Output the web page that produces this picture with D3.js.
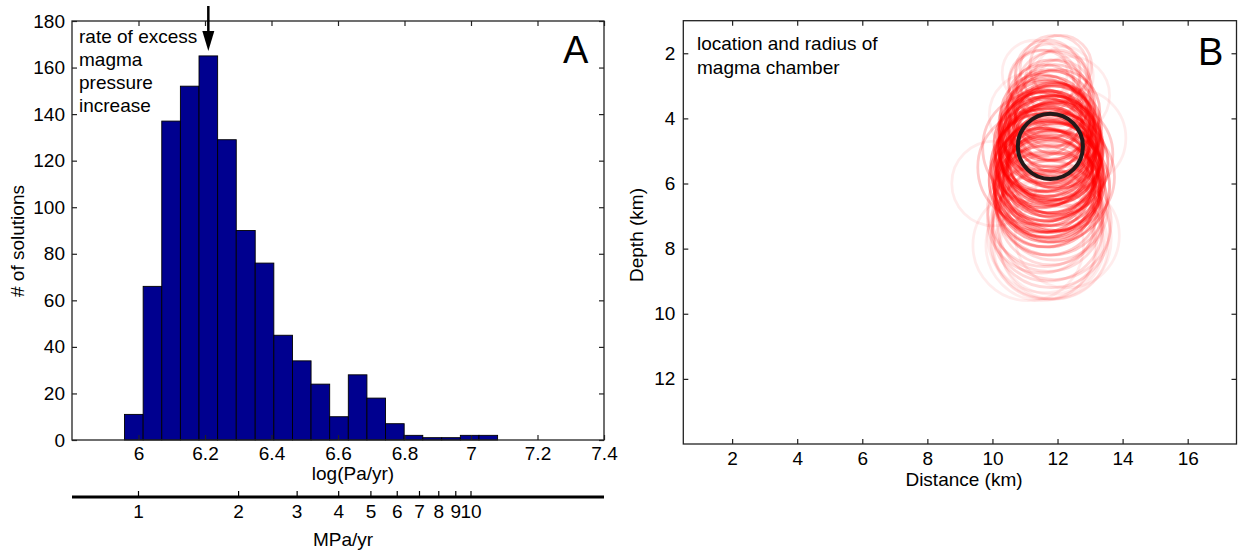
<!DOCTYPE html>
<html>
<head>
<meta charset="utf-8">
<script src="https://cdn.jsdelivr.net/npm/d3@7"></script>
<style>
  body { margin: 0; background: #fff; }
  svg { display: block; font-family: "Liberation Sans", Arial, sans-serif; }
</style>
</head>
<body>
<svg id="chart" width="1238" height="554"></svg>
<script>
// ---- Panel A data: histogram of log10 pressure rate
const binEdges = [5.958, 6.014, 6.070, 6.126, 6.182, 6.238, 6.294, 6.351, 6.407, 6.463, 6.519,
                  6.575, 6.631, 6.687, 6.743, 6.799, 6.855, 6.912, 6.968, 7.024, 7.080];
const binCounts = [11, 66, 137, 152, 165, 129, 90, 76, 45, 34, 24, 10, 28, 18, 7, 2, 1, 1, 2, 2];
const logTicks = [6, 6.2, 6.4, 6.6, 6.8, 7, 7.2, 7.4];
const countTicks = [0, 20, 40, 60, 80, 100, 120, 140, 160, 180];
const mpaTicks = [1, 2, 3, 4, 5, 6, 7, 8, 9, 10];
const bestRate = 6.21;
const noteA = ['rate of excess', 'magma', 'pressure', 'increase'];

// ---- Panel B data: sampled chamber locations (km), radii (km), and how many solutions share them
const chamberX = [11.9, 11.7, 12.1, 11.8, 12.0, 11.6, 12.2, 11.9, 11.5, 12.0,
                  11.8, 11.6, 11.9, 11.7, 12.0, 11.5, 11.8, 11.7, 11.9, 11.6,
                  11.8, 12.0, 11.7, 11.5, 11.9, 11.7, 11.8, 11.6, 11.9, 11.7,
                  11.8, 11.5, 12.0, 11.7, 11.8, 11.6, 11.9, 11.7, 11.8, 11.6,
                  11.9, 11.7, 11.5, 11.8, 12.0, 11.7, 11.6, 11.9, 11.7, 11.8,
                  11.6, 11.7, 11.9, 11.5, 11.8, 11.7, 11.6, 11.9, 11.7, 11.8,
                  11.4, 12.1, 11.3, 12.1, 11.7, 11.6, 11.8, 11.7, 11.9, 11.6,
                  11.8, 11.7, 11.5, 11.9, 11.7, 11.8, 11.6, 11.8, 11.7, 11.5,
                  11.9, 11.6, 11.8, 10.05, 12.6, 11.1, 12.3, 11.2, 12.4, 11.3];
const chamberZ = [2.5, 2.6, 2.4, 2.8, 2.9, 3.0, 2.7, 3.1, 2.9, 3.3,
                  3.4, 3.5, 3.6, 3.7, 3.8, 3.9, 3.9, 4.0, 4.1, 4.2,
                  4.2, 4.3, 4.3, 4.4, 4.4, 4.5, 4.5, 4.6, 4.6, 4.7,
                  4.7, 4.8, 4.8, 4.9, 4.9, 5.0, 5.0, 5.1, 5.1, 5.2,
                  5.2, 5.3, 5.3, 5.4, 5.4, 5.5, 5.5, 5.6, 5.6, 5.7,
                  5.8, 5.8, 5.9, 5.9, 6.0, 6.0, 6.1, 6.1, 6.2, 6.2,
                  4.9, 5.1, 5.5, 5.8, 6.3, 6.4, 6.5, 6.6, 6.7, 6.8,
                  6.9, 7.0, 7.1, 7.2, 7.3, 7.4, 7.6, 7.7, 7.8, 7.9,
                  7.9, 8.0, 7.8, 6.0, 4.6, 7.9, 7.6, 3.9, 3.3, 2.6];
const chamberR = [1.05, 1.0, 0.95, 1.1, 1.0, 1.1, 0.9, 1.15, 1.0, 1.1,
                  1.2, 1.15, 1.25, 1.2, 1.3, 1.25, 1.35, 1.3, 1.2, 1.4,
                  1.3, 1.35, 1.45, 1.3, 1.4, 1.35, 1.5, 1.4, 1.3, 1.55,
                  1.4, 1.45, 1.35, 1.5, 1.6, 1.4, 1.5, 1.45, 1.55, 1.5,
                  1.4, 1.6, 1.45, 1.5, 1.55, 1.5, 1.65, 1.45, 1.55, 1.6,
                  1.5, 1.7, 1.55, 1.6, 1.5, 1.65, 1.55, 1.7, 1.6, 1.5,
                  1.7, 1.6, 1.75, 1.65, 1.65, 1.55, 1.7, 1.6, 1.65, 1.75,
                  1.6, 1.7, 1.65, 1.75, 1.7, 1.8, 1.75, 1.85, 1.75, 1.7,
                  1.65, 1.55, 1.6, 1.3, 1.5, 1.7, 1.6, 1.3, 1.2, 1.0];
const chamberN = [2, 2, 2, 2, 2, 2, 1, 2, 2, 2,
                  3, 3, 3, 3, 4, 4, 4, 5, 5, 5,
                  5, 5, 5, 5, 5, 6, 6, 6, 6, 6,
                  6, 6, 6, 6, 6, 6, 6, 6, 6, 6,
                  6, 6, 6, 6, 6, 6, 6, 6, 6, 6,
                  6, 6, 6, 6, 6, 5, 5, 5, 5, 5,
                  3, 3, 3, 3, 4, 4, 3, 3, 2, 2,
                  2, 2, 2, 2, 2, 2, 1, 1, 1, 1,
                  1, 1, 1, 1, 1, 1, 1, 1, 1, 1];
const bestX = 11.78, bestZ = 4.86, bestR = 1.0;
const distTicks = [2, 4, 6, 8, 10, 12, 14, 16];
const depthTicks = [2, 4, 6, 8, 10, 12];

const svg = d3.select('#chart');
const axisCol = '#222';
const fs = 19;

// Draw a boxed frame with inward ticks on all four sides
function frame(g, x, y, xt, yt, xPad, yPad) {
    const x0 = d3.min(x.range()), x1 = d3.max(x.range());
    const yTop = d3.min(y.range()), yBot = d3.max(y.range());
    g.append('g').attr('transform', `translate(0,${yBot})`)
        .call(d3.axisBottom(x).tickValues(xt).tickSizeInner(-5).tickSizeOuter(0)
            .tickPadding(xPad).tickFormat(d => d));
    g.append('g').attr('transform', `translate(0,${yTop})`)
        .call(d3.axisTop(x).tickValues(xt).tickSizeInner(-5).tickSizeOuter(0).tickFormat(''));
    g.append('g').attr('transform', `translate(${x0},0)`)
        .call(d3.axisLeft(y).tickValues(yt).tickSizeInner(-5).tickSizeOuter(0)
            .tickPadding(yPad).tickFormat(d => d));
    g.append('g').attr('transform', `translate(${x1},0)`)
        .call(d3.axisRight(y).tickValues(yt).tickSizeInner(-5).tickSizeOuter(0).tickFormat(''));
    g.selectAll('.domain').remove();
    g.selectAll('.tick line').attr('stroke', axisCol).attr('stroke-width', 1.2);
    g.selectAll('.tick text').attr('fill', '#000').style('font-size', fs + 'px')
        .style('font-family', '"Liberation Sans", Arial, sans-serif');
    g.append('rect')
        .attr('x', x0).attr('y', yTop).attr('width', x1 - x0).attr('height', yBot - yTop)
        .attr('fill', 'none').attr('stroke', axisCol).attr('stroke-width', 1.3);
}

// ================= Panel A =================
const gA = svg.append('g');
const xA = d3.scaleLinear().domain([5.8, 7.4]).range([72, 604]);
const yA = d3.scaleLinear().domain([0, 180]).range([440, 21]);

gA.append('g').selectAll('rect')
    .data(binCounts)
    .enter()
    .append('rect')
    .attr('x', (d, i) => xA(binEdges[i]))
    .attr('width', (d, i) => xA(binEdges[i + 1]) - xA(binEdges[i]))
    .attr('y', d => yA(d))
    .attr('height', d => yA(0) - yA(d))
    .attr('fill', '#00008f')
    .attr('stroke', '#000')
    .attr('stroke-width', 0.9);

frame(gA, xA, yA, logTicks, countTicks, 7, 7);

// annotation text and arrow
gA.append('g').selectAll('text')
    .data(noteA)
    .enter()
    .append('text')
    .attr('x', 79)
    .attr('y', (d, i) => 43 + i * 23)
    .style('font-size', fs + 'px')
    .text(d => d);

const ax = xA(bestRate);
gA.append('line')
    .attr('x1', ax).attr('x2', ax).attr('y1', 6).attr('y2', 36)
    .attr('stroke', '#000').attr('stroke-width', 2.5);
gA.append('path')
    .attr('d', `M${ax - 6},31 L${ax + 6},31 L${ax},51 Z`)
    .attr('fill', '#000');

gA.append('text').attr('x', 563).attr('y', 63).style('font-size', '38px').text('A');

gA.append('text')
    .attr('x', 353).attr('y', 480)
    .attr('text-anchor', 'middle').style('font-size', fs + 'px')
    .text('log(Pa/yr)');
gA.append('text')
    .attr('transform', 'translate(24,241) rotate(-90)')
    .attr('text-anchor', 'middle').style('font-size', fs + 'px')
    .text('# of solutions');

// secondary MPa/yr axis (log spacing matches log10(Pa/yr))
const mpaY = 497;
gA.append('line')
    .attr('x1', 72).attr('x2', 604).attr('y1', mpaY).attr('y2', mpaY)
    .attr('stroke', '#000').attr('stroke-width', 3);
const mpa = gA.append('g').selectAll('g')
    .data(mpaTicks)
    .enter()
    .append('g')
    .attr('transform', d => `translate(${xA(6 + Math.log10(d))},0)`);
mpa.append('line')
    .attr('y1', mpaY - 6).attr('y2', mpaY)
    .attr('stroke', '#000').attr('stroke-width', 1.2);
mpa.append('text')
    .attr('y', mpaY + 21)
    .attr('text-anchor', 'middle').style('font-size', fs + 'px')
    .text(d => d);
gA.append('text')
    .attr('x', 343).attr('y', 546)
    .attr('text-anchor', 'middle').style('font-size', fs + 'px')
    .text('MPa/yr');

// ================= Panel B =================
const gB = svg.append('g');
const xB = d3.scaleLinear().domain([0.5, 17.5]).range([683.3, 1236.5]);
const yB = d3.scaleLinear().domain([1, 14]).range([20.7, 444]);
const kmPx = xB(1) - xB(0);
const baseAlpha = 0.075;

gB.append('g').selectAll('circle')
    .data(chamberX)
    .enter()
    .append('circle')
    .attr('cx', d => xB(d))
    .attr('cy', (d, i) => yB(chamberZ[i]))
    .attr('r', (d, i) => chamberR[i] * kmPx)
    .attr('fill', 'none')
    .attr('stroke', '#ff0000')
    .attr('stroke-opacity', (d, i) => 1 - Math.pow(1 - baseAlpha, chamberN[i]))
    .attr('stroke-width', 2.8);

gB.append('circle')
    .attr('cx', xB(bestX)).attr('cy', yB(bestZ)).attr('r', bestR * kmPx)
    .attr('fill', 'none').attr('stroke', '#231a1a').attr('stroke-width', 4);

frame(gB, xB, yB, distTicks, depthTicks, 8, 8);

gB.append('text').attr('x', 697).attr('y', 50).style('font-size', fs + 'px').text('location and radius of');
gB.append('text').attr('x', 697).attr('y', 74).style('font-size', fs + 'px').text('magma chamber');
gB.append('text').attr('x', 1198).attr('y', 65).style('font-size', '38px').text('B');

gB.append('text')
    .attr('x', 964).attr('y', 486)
    .attr('text-anchor', 'middle').style('font-size', fs + 'px')
    .text('Distance (km)');
gB.append('text')
    .attr('transform', 'translate(643,235) rotate(-90)')
    .attr('text-anchor', 'middle').style('font-size', fs + 'px')
    .text('Depth (km)');
</script>
</body>
</html>
